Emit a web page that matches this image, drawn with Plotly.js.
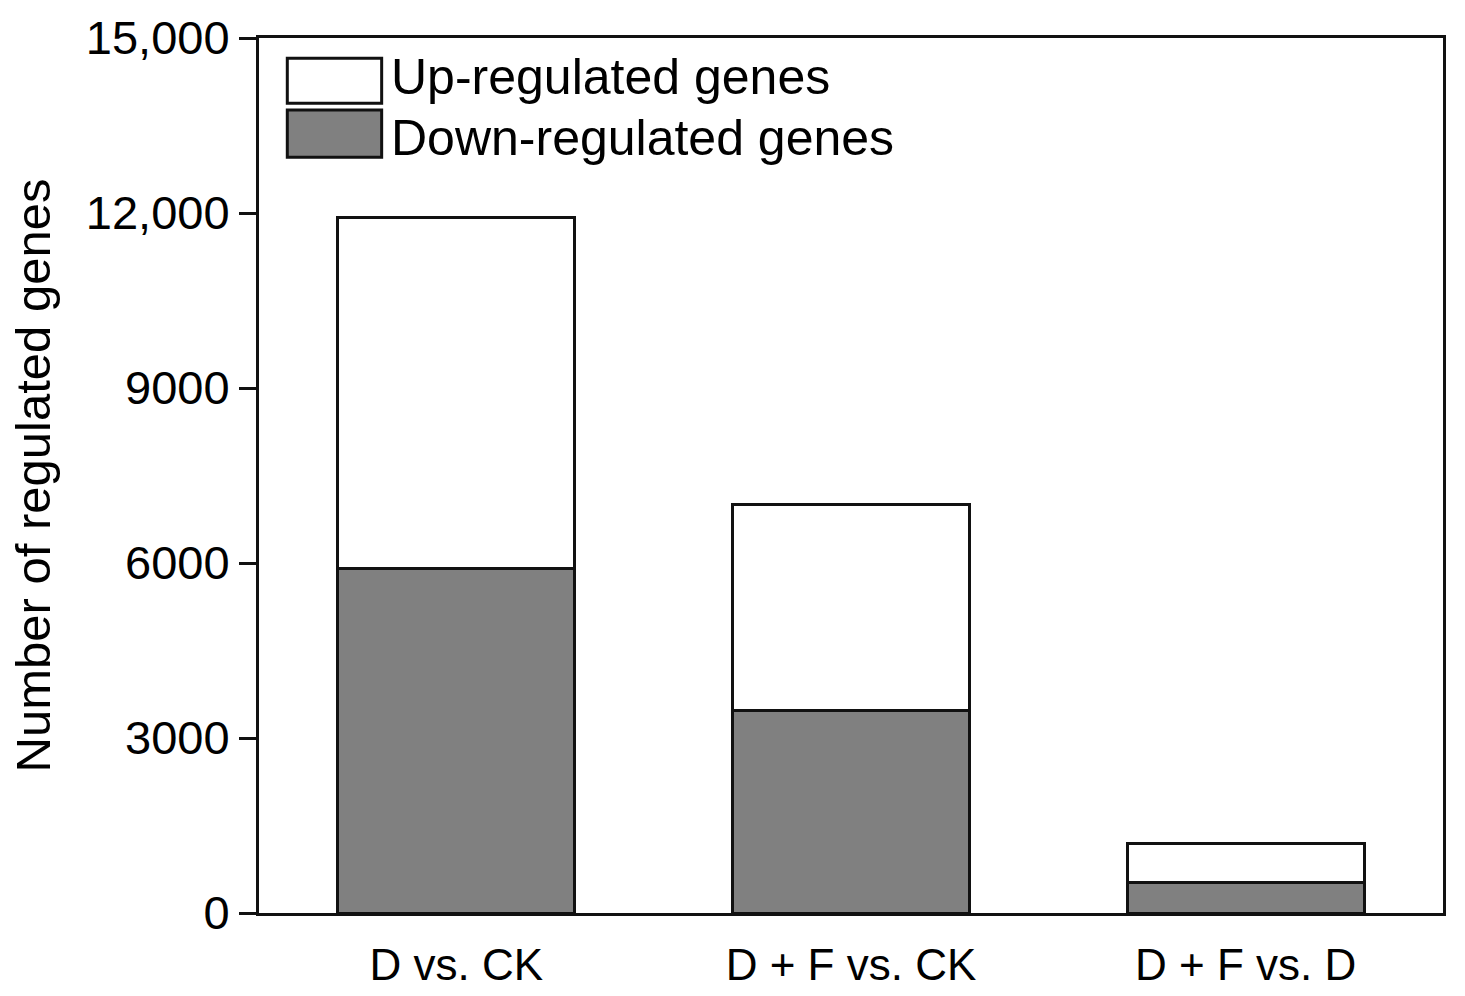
<!DOCTYPE html>
<html>
<head>
<meta charset="utf-8">
<script src="https://cdn.plot.ly/plotly-3.0.1.min.js"></script>
<style>
html,body{margin:0;padding:0;background:#fff;}
#chart{width:1465px;height:996px;}
</style>
</head>
<body>
<div id="chart"></div>
<script>
const categories = ["D vs. CK", "D + F vs. CK", "D + F vs. D"];
const downRegulated = [5900, 3480, 520];
const upRegulated = [6020, 3515, 680];
const yTickValues = [0, 3000, 6000, 9000, 12000, 15000];
const yTickLabels = ["0", "3000", "6000", "9000", "12,000", "15,000"];
const seriesNames = ["Up-regulated genes", "Down-regulated genes"];

const FONT = "Liberation Sans, Arial, Helvetica, sans-serif";
const LINE = "#111111";

const traces = [
  {
    type: "bar", name: seriesNames[1], x: categories, y: downRegulated,
    marker: {color: "#808080", line: {color: LINE, width: 3}},
    showlegend: false, hoverinfo: "x+y"
  },
  {
    type: "bar", name: seriesNames[0], x: categories, y: upRegulated,
    marker: {color: "#ffffff", line: {color: LINE, width: 3}},
    showlegend: false, hoverinfo: "x+y"
  }
];

const legendItems = [
  {name: seriesNames[0], fill: "#ffffff", y0: 0.9253, y1: 0.9768, ty: 0.9555},
  {name: seriesNames[1], fill: "#808080", y0: 0.8637, y1: 0.9177, ty: 0.8860}
];

const shapes = legendItems.map(it => ({
  type: "rect", xref: "paper", yref: "paper",
  x0: 0.0239, x1: 0.1036, y0: it.y0, y1: it.y1,
  fillcolor: it.fill, line: {color: LINE, width: 3}
}));
const annotations = legendItems.map(it => ({
  xref: "paper", yref: "paper", x: 0.1095, y: it.ty,
  xanchor: "left", yanchor: "middle", showarrow: false,
  text: it.name, font: {family: FONT, size: 50, color: "#000"}
}));

const layout = {
  width: 1465, height: 996,
  margin: {l: 259, r: 22, t: 38, b: 83, pad: 0},
  paper_bgcolor: "#fff", plot_bgcolor: "#fff",
  barmode: "stack", bargap: 0.4,
  font: {family: FONT, color: "#000"},
  xaxis: {
    type: "category", range: [-0.5, 2.5],
    showline: true, linecolor: LINE, linewidth: 3, mirror: true,
    ticks: "", showgrid: false, zeroline: false,
    tickfont: {family: FONT, size: 44, color: "#000"},
    ticklabelstandoff: 11
  },
  yaxis: {
    range: [0, 15000], tickvals: yTickValues, ticktext: yTickLabels,
    showline: true, linecolor: LINE, linewidth: 3, mirror: true,
    ticks: "outside", ticklen: 17, tickwidth: 3, tickcolor: LINE,
    showgrid: false, zeroline: false,
    tickfont: {family: FONT, size: 47, color: "#000"},
    title: {text: "Number of regulated genes", font: {family: FONT, size: 49, color: "#000"}, standoff: 20}
  },
  shapes: shapes,
  annotations: annotations
};

Plotly.newPlot("chart", traces, layout, {displayModeBar: false, staticPlot: true});
</script>
</body>
</html>
